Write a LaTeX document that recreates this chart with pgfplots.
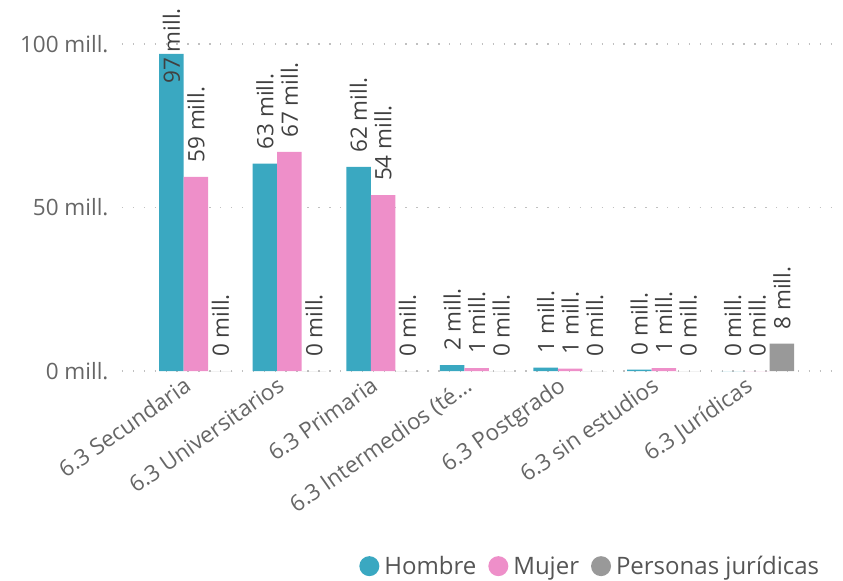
\documentclass[border=0pt]{standalone}
\usepackage{fontspec}
\setmainfont{Open Sans}
\usepackage{pgfplots}
\pgfplotsset{compat=1.18}
\definecolor{cH}{HTML}{3AA8C1}
\definecolor{cM}{HTML}{EE8FC9}
\definecolor{cP}{HTML}{999999}
\definecolor{tickc}{HTML}{666666}
\definecolor{lblc}{HTML}{404040}
\definecolor{legc}{HTML}{555555}
\definecolor{gridc}{HTML}{C0C0C0}
\newcommand{\lf}{\fontsize{22.5bp}{27bp}\selectfont}
\begin{document}
\begin{tikzpicture}
\useasboundingbox (-122bp,-210bp) rectangle (721bp,371bp);
\begin{axis}[
  at={(0,0)}, anchor=south west,
  scale only axis, width=713bp, height=327bp,
  xmin=-0.79, xmax=6.83, ymin=0, ymax=100,
  axis line style={draw=none},
  ybar, bar width=0.262,
  /pgf/number format/assume math mode=true,
  ytick={0,50,100}, yticklabels={0 mill.,50 mill.,100 mill.},
  xtick={0,...,6},
  xticklabels={6.3 Secundaria,6.3 Universitarios,6.3 Primaria,6.3 Intermedios (té…,6.3 Postgrado,6.3 sin estudios,6.3 Jurídicas},
  major tick length=0pt,
  ymajorgrids, grid style={gridc, line width=1.4bp, dash pattern=on 1.4bp off 9.5bp},
  yticklabel style={font=\lf, text=tickc, xshift=-10bp},
  xticklabel style={font=\lf, text=tickc, xshift=-13bp, yshift=-3bp, rotate=35, anchor=north east, inner sep=1bp},
  clip=false,
  nodes near coords={\pgfmathprintnumber[fixed,precision=0]{\pgfplotspointmeta} mill.},
  visualization depends on={rawy \as \rawy},
  every node near coord/.append style={font=\lf, text=lblc, yshift={-44bp*(\rawy>90)}, rotate=90, anchor=west, inner xsep=14bp, inner ysep=0bp},
  legend style={at={(0.985,-0.64)}, anchor=south east, draw=none, fill=none,
    font=\fontsize{24bp}{28bp}\selectfont, text=legc,
    /tikz/every even column/.append style={column sep=10bp},
    /tikz/every odd column/.append style={column sep=3bp}},
  legend columns=3,
  legend image code/.code={\fill[#1] (0.12cm,0cm) circle (10bp);},
]
\addplot[fill=cH, draw=none, bar shift=-0.262] coordinates {(0,97) (1,63.4) (2,62.4) (3,1.8) (4,1.0) (5,0.45) (6,0)};
\addplot[fill=cM, draw=none, bar shift=0] coordinates {(0,59.4) (1,67) (2,53.8) (3,0.9) (4,0.7) (5,0.9) (6,0)};
\addplot[fill=cP, draw=none, bar shift=0.262] coordinates {(0,0) (1,0) (2,0) (3,0) (4,0) (5,0) (6,8.4)};
\legend{Hombre,Mujer,Personas jurídicas}
\end{axis}
\end{tikzpicture}
\end{document}
